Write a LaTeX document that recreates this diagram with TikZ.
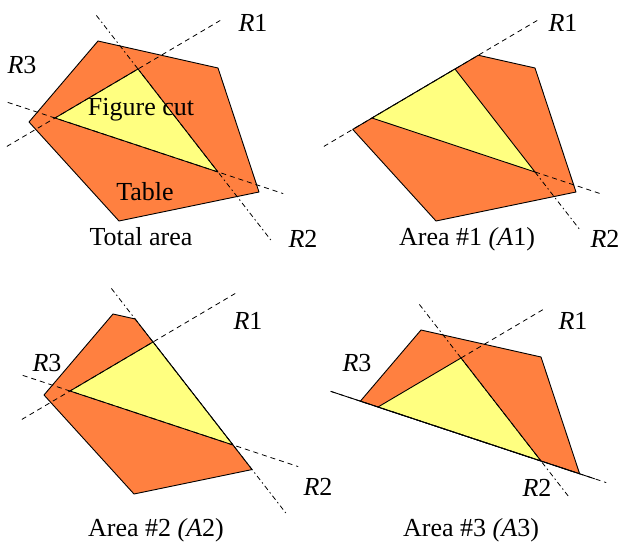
\documentclass[tikz,border=0pt]{standalone}
\usepackage{fontspec}
\setmainfont{Liberation Serif}
\usepackage{tikz}
\usetikzlibrary{calc}
\usepackage{xcolor}
\definecolor{tableorange}{HTML}{FF8040}
\definecolor{cutyellow}{HTML}{FFFF80}
\definecolor{inkline}{HTML}{000000}

\tikzset{
  table/.style={fill=tableorange, draw=inkline, line width=0.9pt, line join=round},
  cutfig/.style={fill=cutyellow, draw=inkline, line width=0.9pt, line join=round},
  rline/.style={draw=inkline, line width=0.8pt, dash pattern=on 5pt off 4pt},
  rlinedot/.style={draw=inkline, line width=0.8pt, dash pattern=on 5pt off 3pt on 1.5pt off 3pt},
  rsolid/.style={draw=inkline, line width=0.9pt},
  lbl/.style={font=\fontsize{26}{30}\selectfont, anchor=base, inner sep=0pt}
}

% corners of the table, the figure cut and the three cut lines
\newcommand{\cutgeometry}{%
  \coordinate (P1) at (98,41);
  \coordinate (P2) at (218,68);
  \coordinate (P3) at (259,192);
  \coordinate (P4) at (119,221);
  \coordinate (P5) at (29,122);
  \coordinate (T1) at (138,69);
  \coordinate (T2) at (55,118);
  \coordinate (T3) at (218,172);
  \coordinate (R1s) at ($(T2)!-0.58!(T1)$);
  \coordinate (R1e) at ($(T2)!1.99!(T1)$);
  \coordinate (R2s) at ($(T1)!-0.52!(T3)$);
  \coordinate (R2e) at ($(T1)!1.66!(T3)$);
  \coordinate (R3s) at ($(T2)!-0.29!(T3)$);
  \coordinate (R3e) at ($(T2)!1.40!(T3)$);
  \coordinate (Q1) at ($(P5)!0.0746!(P4)$);
  \coordinate (Q2) at ($(P1)!0.5275!(P2)$);
  \coordinate (Q3) at ($(P1)!0.1843!(P2)$);
  \coordinate (Q4) at ($(P3)!0.1567!(P4)$);
  \coordinate (Q5) at ($(P5)!0.1215!(P1)$);
  \coordinate (Q6) at ($(P2)!0.9419!(P3)$);
}

\begin{document}
\begin{tikzpicture}[x=1pt, y=-1pt]
    \useasboundingbox (0,0) rectangle (620,543);
    % Total area
    \begin{scope}
        \cutgeometry
        \path[table] (P1) -- (P2) -- (P3) -- (P4) -- (P5) -- cycle;
        \path[cutfig] (T1) -- (T2) -- (T3) -- cycle;
        \draw[rline] (R1s) -- (R1e);
        \draw[rlinedot] (R2s) -- (R2e);
        \draw[rline] (R3s) -- (R3e);
        \node[lbl] (tot-fig) at (141,115) {Figure cut};
        \node[lbl] (tot-tab) at (145,200) {Table};
        \node[lbl] (tot-cap) at (141,245) {Total area};
        \node[lbl] (tot-r1) at (253,32) {\textit{R}1};
        \node[lbl] (tot-r2) at (303,247) {\textit{R}2};
        \node[lbl] (tot-r3) at (22,73) {\textit{R}3};
    \end{scope}
    % Area #1
    \begin{scope}[shift={(317,0)}]
        \cutgeometry
        \path[table] (Q1) -- (Q2) -- (P2) -- (P3) -- (P4) -- cycle;
        \path[cutfig] (T1) -- (T2) -- (T3) -- cycle;
        \draw[rline] (R1s) -- (R1e);
        \draw[rlinedot] (T3) -- ($(T1)!1.57!(T3)$);
        \draw[rline] (T3) -- (R3e);
    \end{scope}
    \node[lbl] (a1-cap) at (467,245) {Area \#1 \textit{(A}1)};
    \node[lbl] (a1-r1) at (563,32) {\textit{R}1};
    \node[lbl] (a1-r2) at (605,247) {\textit{R}2};
    % Area #2
    \begin{scope}[shift={(15,273)}]
        \cutgeometry
        \path[table] (P1) -- (Q3) -- (Q4) -- (P4) -- (P5) -- cycle;
        \path[cutfig] (T1) -- (T2) -- (T3) -- cycle;
        \draw[rline] (R1s) -- (R1e);
        \draw[rlinedot] (R2s) -- (R2e);
        \draw[rline] (R3s) -- (R3e);
    \end{scope}
    \node[lbl] (a2-cap) at (156,536) {Area \#2 \textit{(A}2)};
    \node[lbl] (a2-r1) at (248,329) {\textit{R}1};
    \node[lbl] (a2-r2) at (318,495) {\textit{R}2};
    \node[lbl] (a2-r3) at (47,371) {\textit{R}3};
    % Area #3
    \begin{scope}[shift={(323,289)}]
        \cutgeometry
        \path[table] (P1) -- (P2) -- (Q6) -- (Q5) -- cycle;
        \path[cutfig] (T1) -- (T2) -- (T3) -- cycle;
        \draw[rline] (R3s) -- (R3e);
        \draw[rsolid] (R3s) -- ($(T2)!1.33!(T3)$);
        \draw[rline] (T1) -- (R1e);
        \draw[rlinedot] (R2s) -- ($(T1)!1.35!(T3)$);
    \end{scope}
    \node[lbl] (a3-cap) at (471,536) {Area \#3 \textit{(A}3)};
    \node[lbl] (a3-r1) at (573,329) {\textit{R}1};
    \node[lbl] (a3-r2) at (537,496) {\textit{R}2};
    \node[lbl] (a3-r3) at (357,371) {\textit{R}3};
\end{tikzpicture}
\end{document}
